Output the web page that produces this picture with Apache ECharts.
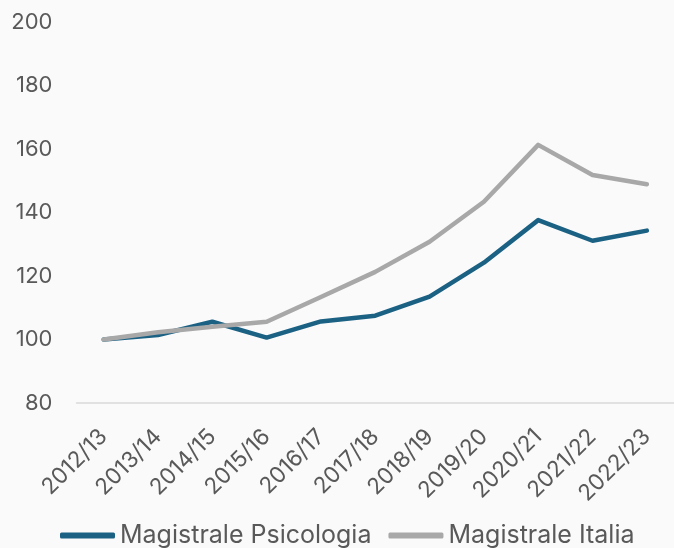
<!DOCTYPE html>
<html><head><meta charset="utf-8">
<script src="https://cdn.jsdelivr.net/npm/echarts@6/dist/echarts.min.js"></script>
<style>html,body{margin:0;padding:0;background:#fafafa}#c{width:674px;height:548px}</style>
</head><body><div id="c"></div>
<script>
const categories = ['2012/13','2013/14','2014/15','2015/16','2016/17','2017/18','2018/19','2019/20','2020/21','2021/22','2022/23'];
const psicologia = [100, 101.4, 105.6, 100.6, 105.7, 107.5, 113.5, 124.2, 137.6, 131.1, 134.3];
const italia = [100, 102.3, 104.0, 105.6, 113.4, 121.3, 130.8, 143.4, 161.3, 151.8, 148.9];
const seriesNames = ['Magistrale Psicologia', 'Magistrale Italia'];
const yTicks = {min: 80, max: 200, interval: 20};

const font = 'Inter';
const txt = '#595959';
const chart = echarts.init(document.getElementById('c'), null, {renderer: 'canvas'});
chart.setOption({
  backgroundColor: '#fafafa',
  animation: false,
  grid: {left: 76.5, right: -8.6, top: 22, bottom: 145, containLabel: false},
  xAxis: {
    type: 'category', data: categories, boundaryGap: true,
    axisLine: {show: true, lineStyle: {color: '#d9d9d9', width: 1.5}},
    axisTick: {show: false},
    axisLabel: {rotate: 45, margin: 30, fontFamily: font, fontSize: 22.5, color: txt, interval: 0}
  },
  yAxis: {
    type: 'value', min: yTicks.min, max: yTicks.max, interval: yTicks.interval,
    axisLine: {show: false}, axisTick: {show: false}, splitLine: {show: false},
    axisLabel: {margin: 24, fontFamily: font, fontSize: 22, color: txt}
  },
  legend: {
    top: 523, left: 60, padding: 0, itemWidth: 55, itemHeight: 6, itemGap: 17,
    icon: 'roundRect',
    textStyle: {fontFamily: font, fontSize: 25, color: txt},
    data: seriesNames
  },
  series: [
    {name: seriesNames[0], type: 'line', data: psicologia, symbol: 'none', color: '#1b6184',
     lineStyle: {width: 4.5, color: '#1b6184', cap: 'round', join: 'round'}},
    {name: seriesNames[1], type: 'line', data: italia, symbol: 'none', color: '#a8a8a8',
     lineStyle: {width: 4.5, color: '#a8a8a8', cap: 'round', join: 'round'}}
  ]
});
</script></body></html>
